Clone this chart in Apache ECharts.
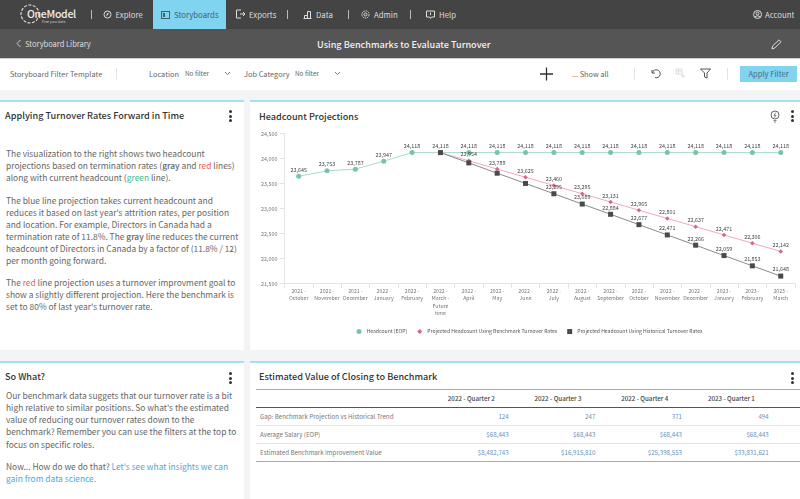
<!DOCTYPE html>
<html><head><meta charset="utf-8">
<script src="https://cdn.jsdelivr.net/npm/echarts@6/dist/echarts.min.js"></script>
<style>
html,body{margin:0;padding:0;width:800px;height:499px;overflow:hidden;background:#f3f4f6;font-family:"Noto Sans CJK JP","Noto Sans",sans-serif;color:#666}
.a{position:absolute;white-space:nowrap}
.bar{position:absolute;left:0;width:800px}
.nav{color:#ddd;font-size:7.8px;line-height:12px;top:9px}
.sep{position:absolute;width:1px}
.card{position:absolute;background:#fff;border-top:2px solid #a5dff0;box-sizing:border-box}
.title{color:#333;font-size:9.15px;line-height:14px;font-weight:500}
.para{color:#666;font-size:8.42px;line-height:12.15px}
.dots{position:absolute;width:3px}
.dots i{display:block;width:3px;height:3px;border-radius:50%;background:#333;margin-bottom:1.5px}
.flt{font-size:7.4px;line-height:12px;color:#666}
.nf{font-size:6.4px;line-height:12px;color:#666}
table{position:absolute;left:256px;top:389px;width:544px;border-collapse:collapse;table-layout:fixed;font-size:6.2px}
th{height:17px;padding:0 0 0 4px;font-weight:500;color:#444;text-align:center;border-top:1px solid #aaa;border-bottom:1.5px solid #555}
td{height:17px;padding:0 4px 0 0;text-align:right;color:#6a8fb8;border-bottom:1px solid #e3e3e3}
td:first-child{text-align:left;color:#777;padding-left:4px}
tr:last-child td{border-bottom:1px solid #aaa}
svg{position:absolute;overflow:visible}
</style></head><body>
<div class="bar" style="top:0;height:29px;background:#444"></div>
<div class="bar" style="top:29px;height:29px;background:#555"></div>
<div class="bar" style="top:58px;height:32px;background:#fff;border-top:1px solid #ccc;box-sizing:border-box"></div>
<div class="a" style="left:153px;top:0;width:73px;height:29px;background:#80d4f0"></div>

<svg style="left:20px;top:4px" width="22" height="22"><circle cx="10" cy="10" r="9" fill="none" stroke="#ddd" stroke-width="1.2" stroke-dasharray="3 1.5"/></svg>
<div class="a" style="left:27px;top:7px;color:#eee;font-size:10.5px;line-height:14px;font-weight:500;letter-spacing:-.3px">OneModel</div>
<div class="a" style="left:42px;top:19px;color:#ccc;font-size:3.5px;line-height:5px">Free your data</div>

<div class="sep" style="left:91px;top:10px;height:9px;background:#bbb"></div>
<div class="sep" style="left:287px;top:10px;height:9px;background:#bbb"></div>
<div class="sep" style="left:348px;top:10px;height:9px;background:#bbb"></div>
<div class="sep" style="left:410px;top:10px;height:9px;background:#bbb"></div>

<svg style="left:103px;top:10px" width="10" height="10"><circle cx="4.5" cy="4.5" r="3.5" fill="none" stroke="#ddd"/><path d="M3 6l1-2.5 2-1-1 2.5z" fill="#ddd"/></svg>
<div class="a nav" style="left:115.5px">Explore</div>
<svg style="left:161px;top:10px" width="10" height="10"><rect x=".5" y="1.5" width="8" height="7" fill="none" stroke="#44606e"/><rect x="2" y="3" width="2" height="4" fill="#44606e"/></svg>
<div class="a nav" style="left:174px;color:#46616f">Storyboards</div>
<svg style="left:236px;top:9px" width="11" height="11"><path d="M5 1H.5v8H5M4 5h5M7 3l2 2-2 2" fill="none" stroke="#ddd"/></svg>
<div class="a nav" style="left:249px">Exports</div>
<svg style="left:303px;top:10px" width="10" height="10"><path d="M.5 8.5h8M1.5 8.5v-3h3v3M4.5 8.5v-7h3v7" fill="none" stroke="#ddd"/></svg>
<div class="a nav" style="left:316px">Data</div>
<svg style="left:361px;top:10px" width="10" height="10"><circle cx="4.5" cy="4.5" r="3.6" fill="none" stroke="#ddd" stroke-dasharray="1.6 .8"/><circle cx="4.5" cy="4.5" r="1.5" fill="none" stroke="#ddd"/></svg>
<div class="a nav" style="left:374px">Admin</div>
<svg style="left:426px;top:10px" width="10" height="10"><path d="M.5 1h8v6h-3l-1 1.5-1-1.5h-3z" fill="none" stroke="#ddd"/><path d="M4.5 2.5v2.5" stroke="#ddd"/></svg>
<div class="a nav" style="left:439px">Help</div>
<svg style="left:753px;top:10px" width="10" height="10"><circle cx="4.5" cy="4.5" r="4" fill="none" stroke="#ddd"/><circle cx="4.5" cy="3.5" r="1.4" fill="none" stroke="#ddd"/><path d="M2 7c1-1.5 4-1.5 5 0" fill="none" stroke="#ddd"/></svg>
<div class="a nav" style="left:765px">Account</div>

<svg style="left:16px;top:39px" width="6" height="10"><path d="M4.5 1L1 4.5 4.5 8" fill="none" stroke="#ccc"/></svg>
<div class="a" style="left:25px;top:37px;font-size:7.5px;line-height:14px;color:#ddd">Storyboard Library</div>
<div class="a" style="left:317px;top:36px;font-size:9.15px;line-height:16px;color:#f2f2f2;font-weight:500">Using Benchmarks to Evaluate Turnover</div>
<svg style="left:771px;top:39px" width="11" height="11"><path d="M1 10l.6-3L8 .8l2 2L3.8 9z" fill="none" stroke="#ddd"/></svg>

<div class="a flt" style="left:10px;top:68px">Storyboard Filter Template</div>
<div class="sep" style="left:116px;top:68px;height:12px;background:#e3e3e3"></div>
<div class="a flt" style="left:149px;top:68px">Location</div>
<div class="a nf" style="left:185px;top:68px">No filter</div>
<svg style="left:224px;top:71px" width="7" height="5"><path d="M1 1l2.5 2.5L6 1" fill="none" stroke="#777"/></svg>
<div class="a flt" style="left:244px;top:68px">Job Category</div>
<div class="a nf" style="left:295px;top:68px">No filter</div>
<svg style="left:334px;top:71px" width="7" height="5"><path d="M1 1l2.5 2.5L6 1" fill="none" stroke="#777"/></svg>
<svg style="left:540px;top:67px" width="14" height="14"><path d="M0 7h13M6.5 .5v13" stroke="#333" stroke-width="1.3"/></svg>
<div class="a flt" style="left:572px;top:68px;font-size:7.3px">... Show all</div>
<div class="sep" style="left:634px;top:68px;height:12px;background:#e3e3e3"></div>
<svg style="left:650px;top:68px" width="11" height="11"><path d="M2 2v3h3M2.3 5A4 4 0 1 1 5 9.6" fill="none" stroke="#555"/></svg>
<svg style="left:675px;top:68px" width="11" height="11"><path d="M1 1h6v5H1zM1 3h6M3.5 1v5M8 6v4M6 8h4" fill="none" stroke="#ddd"/></svg>
<svg style="left:700px;top:68px" width="12" height="11"><path d="M.5 1h10L7 5v5L4.5 9V5z" fill="none" stroke="#555"/></svg>
<div class="sep" style="left:727px;top:68px;height:12px;background:#e3e3e3"></div>
<div class="a" style="left:740px;top:66px;width:57px;height:16px;background:#80d4f0;color:#4a6a80;font-size:7.6px;line-height:16px;text-align:center">Apply Filter</div>

<div class="card" style="left:0;top:100px;width:244px;height:250px"></div>
<div class="card" style="left:250px;top:100px;width:550px;height:250px"></div>
<div class="card" style="left:0;top:361px;width:244px;height:138px"></div>
<div class="card" style="left:250px;top:361px;width:550px;height:138px"></div>

<div class="a title" style="left:5px;top:108px">Applying Turnover Rates Forward in Time</div>
<div class="a para" style="left:6px;top:147px">The visualization to the right shows two headcount<br>projections based on termination rates (<b style="font-weight:500">gray</b> and <span style="color:#e8605a">red</span> lines)<br>along with current headcount (<span style="color:#3fb98c">green</span> line).</div>
<div class="a para" style="left:6px;top:193.500px">The blue line projection takes current headcount and<br>reduces it based on last year's attrition rates, per position<br>and location. For example, Directors in Canada had a<br>termination rate of 11.8%. The <b style="font-weight:500">gray</b> line reduces the current<br>headcount of Directors in Canada by a factor of (11.8% / 12)<br>per month going forward.</div>
<div class="a para" style="left:6px;top:276px">The <span style="color:#e8605a">red</span> line projection uses a turnover improvment goal to<br>show a slightly different projection. Here the benchmark is<br>set to 80% of last year's turnover rate.</div>
<div class="dots" style="left:229px;top:110px"><i></i><i></i><i></i></div>

<div class="a title" style="left:259px;top:109px">Headcount Projections</div>
<svg style="left:770px;top:110px" width="11" height="13"><circle cx="5" cy="5" r="4" fill="none" stroke="#666"/><path d="M3.500 10.500h3M4 12h2M5.800 2.500L4 5.300h2L4.400 7.800" fill="none" stroke="#666" stroke-width=".8"/></svg>
<div class="dots" style="left:791px;top:110px"><i></i><i></i><i></i></div>

<div class="a title" style="left:5px;top:369px">So What?</div>
<div class="dots" style="left:229px;top:372px"><i></i><i></i><i></i></div>
<div class="a para" style="left:6px;top:389px">Our benchmark data suggets that our turnover rate is a bit<br>high relative to similar positions. So what's the estimated<br>value of reducing our turnover rates down to the<br>benchmark? Remember you can use the filters at the top to<br>focus on specific roles.</div>
<div class="a para" style="left:6px;top:460px">Now... How do we do that? <span style="color:#4aa8d8">Let's see what insights we can<br>gain from data science.</span></div>

<div class="a title" style="left:259px;top:369px">Estimated Value of Closing to Benchmark</div>
<div class="dots" style="left:791px;top:372px"><i></i><i></i><i></i></div>
<table id="tbl"></table>

<div id="chart" style="position:absolute;left:250px;top:102px;width:550px;height:248px"></div>
<script>
var categories=["2021 -\nOctober","2021 -\nNovember","2021 -\nDecember","2022 -\nJanuary","2022 -\nFebruary","2022 -\nMarch -\nFuture\ntime","2022 -\nApril","2022 -\nMay","2022 -\nJune","2022 -\nJuly","2022 -\nAugust","2022 -\nSeptember","2022 -\nOctober","2022 -\nNovember","2022 -\nDecember","2023 -\nJanuary","2023 -\nFebruary","2023 -\nMarch"];
var headcount=[23645,23753,23787,23947,24118,24118,24118,24118,24118,24118,24118,24118,24118,24118,24118,24118,24118,24118];
var benchmark=[null,null,null,null,null,24118,23954,23789,23625,23460,23295,23131,22965,22801,22637,22471,22306,22142];
var historical=[null,null,null,null,null,24118,23912,23706,23501,23295,23089,22884,22677,22471,22266,22059,21853,21648];
var hiddenBenchmarkLabels=[5];
var hiddenHistoricalLabels=[5,6,7,8];
var tableHead=["","2022 - Quarter 2","2022 - Quarter 3","2022 - Quarter 4","2023 - Quarter 1"];
var tableRows=[
 ["Gap: Benchmark Projection vs Historical Trend","124","247","371","494"],
 ["Average Salary (EOP)","$68,443","$68,443","$68,443","$68,443"],
 ["Estimated Benchmark Improvement Value","$8,482,743","$16,915,810","$25,398,553","$33,831,621"]
];
var html='<colgroup><col style="width:170px"><col style="width:86.700px"><col style="width:86.700px"><col style="width:86.700px"><col style="width:86.700px"><col></colgroup>';
html+='<tr>'+tableHead.map(function(h){return '<th>'+h+'</th>';}).join('')+'<th></th></tr>';
tableRows.forEach(function(r){html+='<tr>'+r.map(function(c){return '<td>'+c+'</td>';}).join('')+'<td></td></tr>';});
document.getElementById('tbl').innerHTML=html;

function pts(arr,hidden){return arr.map(function(v,i){return hidden.indexOf(i)>=0?{value:v,label:{show:false}}:v;});}
var font='"Noto Sans CJK JP","Noto Sans",sans-serif';
function lab(){return {show:true,position:'top',distance:1.5,fontSize:5.4,color:'#444',fontFamily:font,formatter:function(p){return echarts.format.addCommas(p.value);}};}
var chart=echarts.init(document.getElementById('chart'),null,{renderer:'canvas'});
chart.setOption({
 animation:false,
 grid:{left:34.5,right:5.1,top:31.5,height:150,containLabel:false},
 legend:{left:101.5,top:222,itemGap:10,itemWidth:5,itemHeight:5,
  textStyle:{fontSize:5.1,color:'#555',fontFamily:font},
  data:[{name:'Headcount (EOP)',icon:'circle'},{name:'Projected Headcount Using Benchmark Turnover Rates',icon:'diamond'},{name:'Projected Headcount Using Historical Turnover Rates',icon:'rect'}]},
 xAxis:{type:'category',data:categories,boundaryGap:true,
  axisLine:{lineStyle:{color:'#dfe5e8'}},axisTick:{show:true,alignWithLabel:false,length:5,lineStyle:{color:'#dfe5e8'}},
  axisLabel:{interval:0,fontSize:5.2,lineHeight:7.300,color:'#777',fontFamily:font,margin:4}},
 yAxis:{type:'value',min:21500,max:24500,interval:500,
  axisLine:{show:true,lineStyle:{color:'#dfe5e8'}},axisTick:{show:true,length:5,lineStyle:{color:'#dfe5e8'}},splitLine:{show:false},
  axisLabel:{fontSize:5.4,color:'#777',fontFamily:font,margin:7,formatter:function(v){return echarts.format.addCommas(v);}}},
 series:[
  {name:'Headcount (EOP)',type:'line',data:headcount,symbol:'circle',symbolSize:5,showAllSymbol:true,
   itemStyle:{color:'#76c5a8'},lineStyle:{color:'#a8dcc8',width:1},label:lab()},
  {name:'Projected Headcount Using Benchmark Turnover Rates',type:'line',data:pts(benchmark,hiddenBenchmarkLabels),symbol:'diamond',symbolSize:4.5,showAllSymbol:true,
   itemStyle:{color:'#d9638a'},lineStyle:{color:'#eeaabb',width:1},label:lab()},
  {name:'Projected Headcount Using Historical Turnover Rates',type:'line',data:pts(historical,hiddenHistoricalLabels),symbol:'rect',symbolSize:5,showAllSymbol:true,
   itemStyle:{color:'#4a4a4a'},lineStyle:{color:'#8a8a8a',width:1},label:lab()}
 ]
});
</script>
</body></html>
